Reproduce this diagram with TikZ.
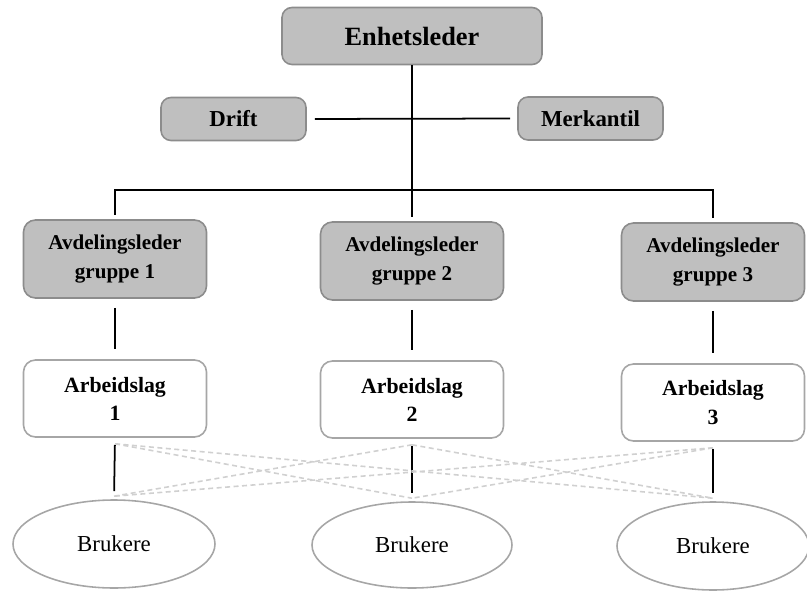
\documentclass[tikz,border=0pt]{standalone}
\usepackage{fontspec}
\setmainfont{Liberation Serif}
\usetikzlibrary{shapes.geometric}

\definecolor{boksfyll}{HTML}{BFBFBF}
\definecolor{kant}{HTML}{8C8C8C}
\definecolor{lyskant}{HTML}{A6A6A6}
\definecolor{strek}{HTML}{D0D0D0}

\tikzset{
  leder/.style={draw=kant, fill=boksfyll, line width=0.9pt, rounded corners=0.2cm,
    inner sep=0pt, align=center, font=\bfseries\fontsize{13}{16}\selectfont},
  avd/.style={leder, minimum width=3.66cm, minimum height=1.56cm, rounded corners=0.24cm,
    font=\bfseries\fontsize{12}{16}\selectfont},
  lag/.style={draw=lyskant, fill=white, line width=0.9pt, rounded corners=0.24cm,
    inner sep=0pt, align=center, minimum width=3.66cm, minimum height=1.54cm,
    font=\bfseries\fontsize{12.4}{16}\selectfont},
  bruker/.style={ellipse, draw=lyskant, line width=0.9pt, inner sep=0pt,
    font=\fontsize{13}{16}\selectfont},
  linje/.style={draw=black, line width=1pt},
  kryss/.style={draw=strek, line width=0.9pt, dash pattern=on 0.1cm off 0.07cm}
}

\begin{document}
\begin{tikzpicture}[x=1cm,y=1cm]
\useasboundingbox (0,0) rectangle (16.14,11.8);
% ledelse
\node[leder,minimum width=5.2cm,minimum height=1.14cm,font=\bfseries\fontsize{15}{18}\selectfont] (enhet) at (8.24,11.08) {Enhetsleder};
\node[leder,minimum width=2.9cm,minimum height=0.86cm] (drift) at (4.67,9.42) {Drift};
\node[leder,minimum width=2.9cm,minimum height=0.86cm] (merk) at (11.81,9.43) {Merkantil};
% avdelinger
\node[avd] (avd1) at (2.30,6.62) {Avdelingsleder\\gruppe 1};
\node[avd] (avd2) at (8.24,6.58) {Avdelingsleder\\gruppe 2};
\node[avd] (avd3) at (14.26,6.56) {Avdelingsleder\\gruppe 3};
% arbeidslag
\node[lag] (lag1) at (2.30,3.83) {Arbeidslag\\1};
\node[lag] (lag2) at (8.24,3.81) {Arbeidslag\\2};
\node[lag] (lag3) at (14.26,3.75) {Arbeidslag\\3};
% brukere
\node[bruker,minimum width=4.04cm,minimum height=1.76cm] (bru1) at (2.28,0.92) {Brukere};
\node[bruker,minimum width=4.0cm,minimum height=1.72cm] (bru2) at (8.24,0.90) {Brukere};
\node[bruker,minimum width=3.84cm,minimum height=1.76cm] (bru3) at (14.26,0.88) {Brukere};

\coordinate (bar) at (8.24,8.0);
\draw[linje,shorten <=0.16cm,shorten >=0.14cm] (drift.east) -- (merk.west);
\draw[linje] (enhet.south) -- (bar);
\draw[linje,shorten >=0.08cm] (bar) -| (avd1.north);
\draw[linje,shorten >=0.08cm] (bar) -- (avd2.north);
\draw[linje,shorten >=0.08cm] (bar) -| (avd3.north);

\draw[linje,shorten <=0.18cm,shorten >=0.2cm] (avd1.south) -- (lag1.north);
\draw[linje,shorten <=0.18cm,shorten >=0.2cm] (avd2.south) -- (lag2.north);
\draw[linje,shorten <=0.18cm,shorten >=0.2cm] (avd3.south) -- (lag3.north);

\draw[linje,shorten <=0.14cm,shorten >=0.16cm] (lag1.south) -- (bru1.north);
\draw[linje,shorten <=0.14cm,shorten >=0.16cm] (lag2.south) -- (bru2.north);
\draw[linje,shorten <=0.14cm,shorten >=0.16cm] (lag3.south) -- (bru3.north);

% kryssende stiplede linjer
\coordinate (l1) at ([yshift=-0.12cm]lag1.south);
\coordinate (l2) at ([yshift=-0.12cm]lag2.south);
\coordinate (l3) at ([yshift=-0.12cm]lag3.south);
\coordinate (b1) at ([yshift=0.06cm]bru1.north);
\coordinate (b2) at ([yshift=0.06cm]bru2.north);
\coordinate (b3) at ([yshift=0.06cm]bru3.north);
\foreach \i/\j in {1/2,1/3,2/1,2/3,3/1,3/2}
  \draw[kryss] (l\i) -- (b\j);
\end{tikzpicture}
\end{document}
